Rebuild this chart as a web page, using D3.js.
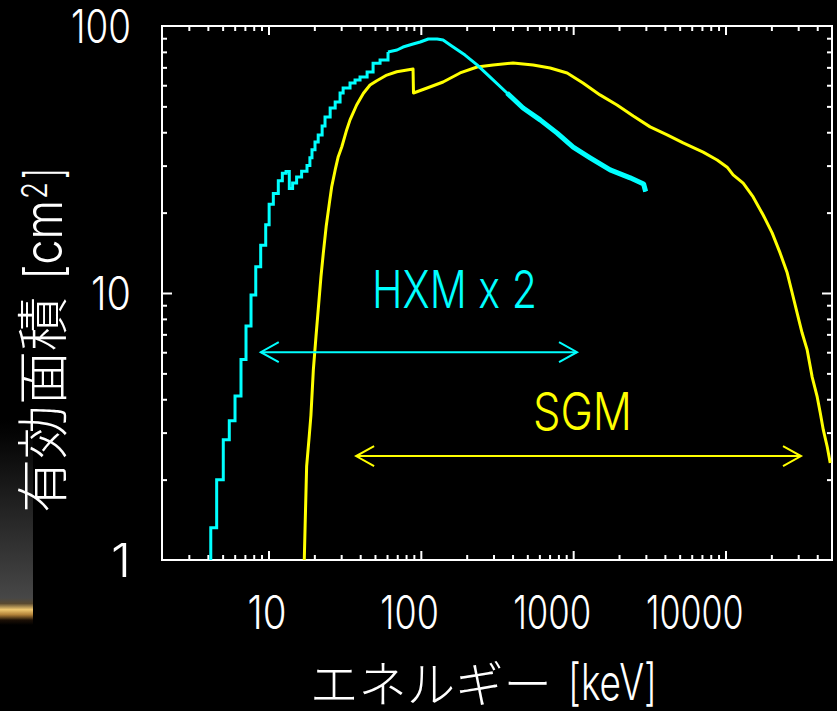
<!DOCTYPE html>
<html>
<head>
<meta charset="utf-8">
<script src="https://cdn.jsdelivr.net/npm/d3@7"></script>
<style>
  html, body { margin: 0; padding: 0; background: #000; }
  svg { display: block; }
</style>
</head>
<body>
<div id="chart"></div>
<script>
// Effective area of HXM (x2) and SGM vs photon energy

// HXM x 2 : histogram part (bin left edge keV, area cm2)
const hxmStepE = [4.0, 4.18, 4.57, 5.05, 5.53, 6.03, 6.60, 7.12, 7.68, 8.25, 8.89, 9.59, 10.1, 10.76, 11.6, 12.33, 13.04, 13.7, 14.4, 15.3, 16.5, 17.9, 18.7, 19.3, 20.2, 21.2, 22.5, 23.5, 25.4, 27.4, 29.5, 30.9, 34.3, 37.0, 39.9, 44.4, 48.6, 54.0, 60.9];
const hxmStepA = [0.5, 1.32, 2.00, 2.82, 3.32, 4.11, 5.64, 7.52, 9.83, 12.55, 15.1, 18.0, 21.5, 23.6, 26.3, 28.1, 28.5, 24.6, 25.8, 27.2, 28.6, 30.0, 32.1, 34.4, 36.8, 39.1, 42.2, 45.6, 49.3, 51.9, 56.1, 58.6, 61.2, 62.8, 64.4, 67.3, 72.6, 74.6, 79.9];

// HXM x 2 : upper part
const hxmE = [60.9, 69.8, 76.4, 88.9, 99, 112, 128, 140, 156, 195, 234, 285, 368, 469, 607, 785, 1000, 1292, 1748, 2366, 2900, 2990];
const hxmA = [79.9, 81.3, 83.4, 85.6, 87.1, 89.4, 89.4, 88.6, 84.9, 77.8, 71.5, 64.4, 56.1, 49.3, 44.5, 39.7, 35.2, 32.1, 28.9, 27.0, 25.6, 24.0];

// SGM
const sgmE = [17.1, 17.4, 17.8, 18.5, 19.0, 19.7, 20.5, 21.2, 22.1, 22.9, 23.9, 25.1, 26.0, 27.4, 28.7, 30.3, 32.6, 34.3, 37.9, 42.0, 46.4, 51.4, 59.8, 69.5, 88.9, 89.5, 110, 140, 181, 234, 298, 403, 546, 706, 913, 1160, 1500, 1940, 2480, 3200, 4140, 5270, 7130, 8810, 10250, 11220, 13060, 15180, 17660, 20230, 22840, 25400, 27400, 29530, 31840, 34360, 37060, 39990, 41880, 43850, 46550, 48680];
const sgmA = [0.9, 1.35, 2.24, 2.90, 3.49, 5.15, 6.86, 8.64, 11.5, 14.1, 17.7, 21.7, 25.0, 28.9, 32.4, 35.3, 40.8, 44.5, 50.6, 56.0, 60.1, 62.4, 65.5, 67.4, 69.0, 56.1, 58.6, 61.7, 66.7, 70.2, 71.5, 72.7, 71.5, 69.6, 66.7, 61.2, 55.2, 50.6, 46.0, 41.9, 39.1, 36.5, 33.7, 31.5, 29.6, 27.7, 25.8, 22.9, 19.6, 16.8, 14.1, 11.9, 10.0, 8.41, 7.08, 6.12, 4.84, 4.08, 3.55, 3.07, 2.65, 2.31];

// energy ranges shown with arrows
const hxmRange = [8.9, 1060];
const hxmArrowA = 6.0;
const sgmRange = [37.6, 31300];
const sgmArrowA = 2.45;

// axes
const xDomain = [2, 50000];
const yDomain = [1, 100];
const xMajor = [10, 100, 1000, 10000];
const xMajorLabels = ["10", "100", "1000", "10000"];
const yMajor = [1, 10, 100];
const yMajorLabels = ["1", "10", "100"];

const width = 837;
const height = 711;
const margin = { top: 26, right: 5, bottom: 151, left: 162 };

const cyan = "#00ffff";
const yellow = "#ffff00";
const latin = "Inter, 'Open Sans', 'DejaVu Sans', sans-serif";
const cjk = "'Noto Sans CJK JP', 'Noto Sans CJK SC', sans-serif";

const svg = d3.select("#chart").append("svg")
    .attr("width", width)
    .attr("height", height)
    .style("background", "#000");

const x = d3.scaleLog().domain(xDomain).range([margin.left, width - margin.right]);
const y = d3.scaleLog().domain(yDomain).range([height - margin.bottom, margin.top]);

const defs = svg.append("defs");
defs.append("clipPath").attr("id", "plot")
    .append("rect")
    .attr("x", margin.left).attr("y", margin.top)
    .attr("width", width - margin.left - margin.right)
    .attr("height", height - margin.top - margin.bottom);

// faint glow in the lower left corner (background of the original slide)
const glow = defs.append("linearGradient")
    .attr("id", "glow")
    .attr("gradientUnits", "userSpaceOnUse")
    .attr("x1", 0).attr("x2", 0).attr("y1", 420).attr("y2", 625);
[[0, "#000"], [0.08, "#050505"], [0.868, "#474747"], [0.895, "#5a4a30"],
 [0.925, "#f0c870"], [0.95, "#b08038"], [0.976, "#1c1006"], [1, "#000"]]
  .forEach(([o, c]) => glow.append("stop").attr("offset", o).attr("stop-color", c));
svg.append("rect")
    .attr("x", 0).attr("y", 420).attr("width", 33).attr("height", 205)
    .attr("fill", "url(#glow)");

// ticks (inward, on all four sides)
const minorX = x.ticks().filter(v => !xMajor.includes(v) && v > xDomain[0] && v < xDomain[1]);
const minorY = y.ticks().filter(v => !yMajor.includes(v));
const x0 = margin.left, x1 = width - margin.right;
const y0 = height - margin.bottom, y1 = margin.top;

function tickGroup(axis, tx, ty) {
    const g = svg.append("g")
        .attr("transform", `translate(${tx},${ty})`)
        .call(axis);
    g.select(".domain").remove();
    g.selectAll("text").remove();
    g.selectAll("line").attr("stroke", "#fff").attr("stroke-width", 2);
}
[[minorX, 5], [xMajor, 9]].forEach(([vals, len]) => {
    tickGroup(d3.axisBottom(x).tickValues(vals).tickSize(-len), 0, y0);
    tickGroup(d3.axisTop(x).tickValues(vals).tickSize(-len), 0, y1);
});
[[minorY, 5], [[10], 10]].forEach(([vals, len]) => {
    tickGroup(d3.axisLeft(y).tickValues(vals).tickSize(-len), x0, 0);
    tickGroup(d3.axisRight(y).tickValues(vals).tickSize(-len), x1, 0);
});

// frame
svg.append("rect")
    .attr("x", x0).attr("y", y1)
    .attr("width", x1 - x0).attr("height", y0 - y1)
    .attr("fill", "none")
    .attr("stroke", "#fff")
    .attr("stroke-width", 2);

// curves
const plot = svg.append("g").attr("clip-path", "url(#plot)");

const stepLine = d3.line()
    .x(d => x(d[0]))
    .y(d => y(d[1]))
    .curve(d3.curveStepAfter);
const line = d3.line()
    .x(d => x(d[0]))
    .y(d => y(d[1]));

plot.append("path")
    .attr("d", line(d3.zip(sgmE, sgmA)))
    .attr("fill", "none")
    .attr("stroke", yellow)
    .attr("stroke-width", 3)
    .attr("stroke-linejoin", "round");

plot.append("path")
    .attr("d", stepLine(d3.zip(hxmStepE, hxmStepA)))
    .attr("fill", "none")
    .attr("stroke", cyan)
    .attr("stroke-width", 3);

plot.append("path")
    .attr("d", line(d3.zip(hxmE, hxmA)))
    .attr("fill", "none")
    .attr("stroke", cyan)
    .attr("stroke-width", 3)
    .attr("stroke-linejoin", "round");

// noisy tail of the HXM curve looks thicker
plot.append("path")
    .attr("d", line(d3.zip(hxmE, hxmA).filter(d => d[0] >= 368)))
    .attr("fill", "none")
    .attr("stroke", cyan)
    .attr("stroke-width", 5)
    .attr("stroke-linejoin", "round");

// range arrows
function rangeArrow(range, a, color) {
    const xa = x(range[0]), xb = x(range[1]), ya = y(a);
    const g = svg.append("g")
        .attr("fill", "none")
        .attr("stroke", color)
        .attr("stroke-width", 2);
    g.append("line").attr("x1", xa).attr("x2", xb).attr("y1", ya).attr("y2", ya);
    g.append("path").attr("d", `M${xa + 18},${ya - 10}L${xa},${ya}L${xa + 18},${ya + 10}`);
    g.append("path").attr("d", `M${xb - 18},${ya - 10}L${xb},${ya}L${xb - 18},${ya + 10}`);
}
rangeArrow(hxmRange, hxmArrowA, cyan);
rangeArrow(sgmRange, sgmArrowA, yellow);

// annotations
svg.append("text")
    .attr("x", 372).attr("y", 308)
    .attr("fill", cyan)
    .attr("font-family", latin)
    .attr("font-weight", 300)
    .attr("font-size", 52)
    .attr("textLength", 165)
    .attr("lengthAdjust", "spacingAndGlyphs")
    .text("HXM x 2");

svg.append("text")
    .attr("x", 533).attr("y", 430)
    .attr("fill", yellow)
    .attr("font-family", latin)
    .attr("font-weight", 300)
    .attr("font-size", 52)
    .attr("textLength", 99)
    .attr("lengthAdjust", "spacingAndGlyphs")
    .text("SGM");

// tick labels
svg.append("g").selectAll("text")
    .data(xMajor)
    .join("text")
    .attr("x", d => x(d) + 18)
    .attr("y", 629)
    .attr("text-anchor", "end")
    .attr("fill", "#fff")
    .attr("font-family", latin)
    .attr("font-weight", 300)
    .attr("font-size", 46)
    .attr("textLength", (d, i) => xMajorLabels[i].length * 19.5)
    .attr("lengthAdjust", "spacingAndGlyphs")
    .text((d, i) => xMajorLabels[i]);

svg.append("g").selectAll("text")
    .data(yMajor)
    .join("text")
    .attr("x", 131)
    .attr("y", d => y(d) + 17)
    .attr("text-anchor", "end")
    .attr("fill", "#fff")
    .attr("font-family", latin)
    .attr("font-weight", 300)
    .attr("font-size", 46)
    .attr("textLength", (d, i) => yMajorLabels[i].length * 20)
    .attr("lengthAdjust", "spacingAndGlyphs")
    .text((d, i) => yMajorLabels[i]);

// x axis title
svg.append("text")
    .attr("x", 310).attr("y", 702)
    .attr("fill", "#fff")
    .attr("font-family", cjk)
    .attr("font-weight", 300)
    .attr("font-size", 49)
    .attr("textLength", 242)
    .attr("lengthAdjust", "spacingAndGlyphs")
    .text("エネルギー");
svg.append("text")
    .attr("x", 568).attr("y", 700)
    .attr("fill", "#fff")
    .attr("font-family", latin)
    .attr("font-weight", 300)
    .attr("font-size", 50)
    .attr("textLength", 89)
    .attr("lengthAdjust", "spacingAndGlyphs")
    .text("[keV]");

// y axis title (rotated)
const yt = svg.append("g")
    .attr("transform", "translate(62,513) rotate(-90)")
    .attr("fill", "#fff")
    .attr("font-weight", 300);
yt.append("text")
    .attr("x", 0).attr("y", 0)
    .attr("font-family", cjk)
    .attr("font-size", 52)
    .attr("textLength", 216)
    .attr("lengthAdjust", "spacingAndGlyphs")
    .text("有効面積");
yt.append("text")
    .attr("x", 233).attr("y", 0)
    .attr("font-family", latin)
    .attr("font-size", 52)
    .attr("textLength", 80)
    .attr("lengthAdjust", "spacingAndGlyphs")
    .text("[cm");
yt.append("text")
    .attr("x", 314).attr("y", -15)
    .attr("font-family", latin)
    .attr("font-size", 36)
    .attr("textLength", 17)
    .attr("lengthAdjust", "spacingAndGlyphs")
    .text("2");
yt.append("text")
    .attr("x", 334).attr("y", 0)
    .attr("font-family", latin)
    .attr("font-size", 52)
    .attr("textLength", 11)
    .attr("lengthAdjust", "spacingAndGlyphs")
    .text("]");
</script>
</body>
</html>
